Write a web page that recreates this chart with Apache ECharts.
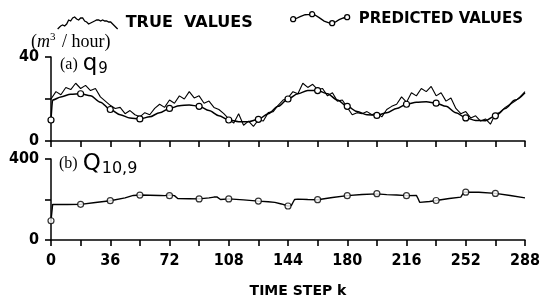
<!DOCTYPE html>
<html>
<head>
<meta charset="utf-8">
<script src="https://cdn.jsdelivr.net/npm/echarts@6/dist/echarts.min.js"></script>
<style>
html, body { margin: 0; padding: 0; background: #fff; }
#chart { width: 546px; height: 299px; }
</style>
</head>
<body>
<div id="chart"></div>
<script>
// (a) q9 true values, one every 3 time steps from k = 0
const trueQ9 = [
    20, 23.5, 22, 25.5, 24.5, 27.5, 25, 26.5, 24, 25,
    21, 19, 17, 15.5, 16, 13, 14.5, 12.5, 11.5, 13.5,
    12.5, 15.5, 17.5, 16, 19.5, 18, 21.5, 20, 23.5, 20.5,
    21.5, 18, 19, 16, 15, 13, 10.5, 8.5, 13, 7.5,
    9.5, 7, 10, 9.5, 13.5, 14, 17, 19.5, 20.5, 23.5,
    22.5, 27.5, 25.5, 27, 24.5, 25, 21.5, 23, 19, 19.5,
    16, 12.5, 13.5, 13, 14, 12.5, 13.5, 11.5, 15, 16.5,
    17.5, 21, 18.5, 23, 21.5, 25, 23.5, 26, 21.5, 23,
    19, 20.5, 15.5, 13, 14, 11, 12, 9.5, 10.5, 8,
    13, 13.5, 16, 17.5, 19, 21, 23.5
];
const trueStep = 3;

// (a) q9 predicted curve
const predK = [0, 1, 6, 12, 18, 24, 30, 36, 42, 48, 54, 60, 66, 72, 78, 84, 90, 96, 102, 108,
    114, 120, 126, 132, 138, 144, 150, 156, 162, 168, 174, 180, 186, 192, 198, 204, 210, 216,
    222, 228, 234, 240, 246, 252, 258, 264, 270, 276, 282, 288];
const predQ9 = [10, 19.5, 21, 22.3, 22.5, 21.5, 18.5, 15, 12.5, 11, 10.5, 11.5, 13.5, 15.5, 16.8,
    17.2, 16.5, 14.5, 12, 10, 9.2, 9.2, 10.3, 13, 16.5, 20, 22.5, 24, 24, 22.5, 19.5, 16.5, 14,
    12.5, 12.2, 13.5, 15.5, 17.5, 18.5, 18.7, 18, 16.5, 13.5, 11, 9.8, 9.7, 12, 15.5, 19.5, 23];

// (b) Q10,9 true values
const flowK = [0, 1, 10, 18, 27, 36, 45, 50, 54, 60, 66, 69, 70, 72, 75, 76, 77, 84, 90, 96,
    99, 101, 102, 103, 108, 117, 126, 132, 136, 140, 144, 146, 147, 148, 150, 156, 162, 171, 180, 189,
    198, 204, 210, 216, 222, 223, 224, 230, 234, 242, 249, 250, 251, 260, 270, 279, 288];
const trueQ109 = [95, 176, 175, 176, 185, 194, 208, 220, 222, 221, 220, 219, 224, 222, 219, 216, 205, 204, 203, 208,
    212, 212, 205, 200, 203, 198, 192, 189, 186, 178, 168, 170, 185, 200, 202, 200, 199, 210, 219, 225,
    228, 224, 222, 219, 220, 205, 186, 190, 195, 205, 212, 225, 236, 236, 230, 220, 208];

// predicted points shown as circles
const markK = [0, 18, 36, 54, 72, 90, 108, 126, 144, 162, 180, 198, 216, 234, 252, 270];
const predQ109 = [95, 176, 194, 222, 219, 203, 203, 192, 168, 199, 219, 229, 219, 195, 236, 230];

const xLabels = [0, 36, 72, 108, 144, 180, 216, 252, 288];
const topYLabels = [0, 40];
const botYLabels = [0, 400];

const trueIcon = 'path://M0,13L3,10L5,9L7,10L9,8L11,4L13,5L15,2L17,1L19,3L21,4L23,2L25,2L27,5L29,6L31,8L33,7L35,6L37,5L39,4L41,4L43,5L45,4L47,5L49,5L51,6L53,6L55,8L57,10L60,13';
const predIcon = 'path://M5.5,9.6L10,7.5L15,5.6L19.5,5.2M24.5,5.6L29,8.5L34,12L39.5,14'
    + 'M44.5,13.4L49,10.5L54.5,8.3'
    + 'M0.5,10a2.5,2.5 0 1,0 5,0a2.5,2.5 0 1,0 -5,0'
    + 'M19.5,5a2.5,2.5 0 1,0 5,0a2.5,2.5 0 1,0 -5,0'
    + 'M39.5,14a2.5,2.5 0 1,0 5,0a2.5,2.5 0 1,0 -5,0'
    + 'M54.5,8a2.5,2.5 0 1,0 5,0a2.5,2.5 0 1,0 -5,0';

const numFont = '"Liberation Sans Narrow", "DejaVu Sans Condensed", "Liberation Sans", sans-serif';
const capFont = '"DejaVu Sans", sans-serif';
const serifFont = '"Liberation Serif", "DejaVu Serif", serif';

const chart = echarts.init(document.getElementById('chart'));

function xAxis(gridIndex) {
    return {
        type: 'value',
        gridIndex,
        min: 0,
        max: 288,
        interval: 18,
        axisLine: { show: true, lineStyle: { color: '#000', width: 1.5 } },
        axisTick: { show: true, length: 6, lineStyle: { color: '#000', width: 1.6 } },
        splitLine: { show: false },
        axisLabel: {
            margin: 13,
            color: gridIndex === 1 ? '#000' : 'rgba(0,0,0,0)',
            fontSize: 16,
            fontWeight: 'bold',
            fontFamily: numFont,
            formatter: (v) => (xLabels.includes(v) ? String(v) : ''),
        },
    };
}

function yAxis(gridIndex, max, labels) {
    return {
        type: 'value',
        gridIndex,
        min: 0,
        max,
        interval: max / 2,
        axisLine: { show: true, lineStyle: { color: '#000', width: 1.5 } },
        axisTick: { show: true, length: 6, lineStyle: { color: '#000', width: 1.6 } },
        splitLine: { show: false },
        axisLabel: {
            margin: 12,
            color: '#000',
            fontSize: 16,
            fontWeight: 'bold',
            fontFamily: numFont,
            formatter: (v) => (labels.includes(v) ? String(v) : ''),
        },
    };
}

const circle = {
    color: '#fff',
    borderColor: '#000',
    borderWidth: 1.2,
};

const bottomX = xAxis(1);
bottomX.name = 'TIME STEP k';
bottomX.nameLocation = 'middle';
bottomX.nameGap = 44;
bottomX.nameTextStyle = {
    fontFamily: capFont,
    fontSize: 14,
    fontWeight: 'bold',
    color: '#000',
    padding: [0, 0, 0, 20],
};

const option = {
    animation: false,
    title: [
        {
            text: '({m|m}{sup|3} / hour)',
            left: 26,
            top: 27,
            textStyle: {
                fontFamily: serifFont,
                fontSize: 18,
                fontWeight: 'normal',
                color: '#000',
                rich: {
                    m: { fontFamily: serifFont, fontSize: 18, fontStyle: 'italic', fontWeight: 'normal', color: '#000' },
                    sup: { fontFamily: serifFont, fontSize: 11, fontWeight: 'normal', color: '#000', padding: [0, 2, 9, 0] },
                },
            },
        },
        {
            text: '{p|(a)} {q|q}{s|9}',
            left: 55,
            top: 47,
            textStyle: {
                fontWeight: 'normal',
                rich: {
                    p: { fontFamily: serifFont, fontSize: 16, fontWeight: 'normal', color: '#000' },
                    q: { fontFamily: capFont, fontSize: 23, fontWeight: 'normal', color: '#000' },
                    s: { fontFamily: capFont, fontSize: 15, fontWeight: 'normal', color: '#000', padding: [10, 0, 0, 1] },
                },
            },
        },
        {
            text: '{p|(b)} {q|Q}{s|10,9}',
            left: 54,
            top: 146,
            textStyle: {
                fontWeight: 'normal',
                rich: {
                    p: { fontFamily: serifFont, fontSize: 16, fontWeight: 'normal', color: '#000' },
                    q: { fontFamily: capFont, fontSize: 23, fontWeight: 'normal', color: '#000' },
                    s: { fontFamily: capFont, fontSize: 16, fontWeight: 'normal', color: '#000', padding: [10, 0, 0, 1] },
                },
            },
        },
    ],
    legend: [
        {
            data: [{ name: 'TRUE VALUES', icon: trueIcon }],
            left: 52,
            top: 10,
            itemWidth: 60,
            itemHeight: 13,
            selectedMode: false,
            formatter: () => 'TRUE  VALUES',
            itemStyle: { color: 'rgba(0,0,0,0)', borderColor: '#000', borderWidth: 1.3 },
            textStyle: { fontFamily: capFont, fontSize: 16, fontWeight: 'bold', color: '#000', padding: [2, 0, 0, 3] },
        },
        {
            data: [{ name: 'PREDICTED VALUES', icon: predIcon }],
            left: 285,
            top: 6,
            itemWidth: 59,
            itemHeight: 14,
            selectedMode: false,
            itemStyle: { color: 'rgba(0,0,0,0)', borderColor: '#000', borderWidth: 1.3 },
            textStyle: { fontFamily: capFont, fontSize: 15, fontWeight: 'bold', color: '#000', padding: [0, 0, 0, 4] },
        },
    ],
    grid: [
        { left: 51, right: 21, top: 57, height: 84 },
        { left: 51, right: 21, top: 159, height: 82 },
    ],
    xAxis: [xAxis(0), bottomX],
    yAxis: [
        yAxis(0, 40, topYLabels),
        yAxis(1, 400, botYLabels),
    ],
    series: [
        {
            name: 'TRUE VALUES',
            type: 'line',
            xAxisIndex: 0,
            yAxisIndex: 0,
            symbol: 'none',
            lineStyle: { color: '#000', width: 1.1 },
            data: trueQ9.map((v, i) => [i * trueStep, v]),
        },
        {
            name: 'PREDICTED VALUES',
            type: 'line',
            xAxisIndex: 0,
            yAxisIndex: 0,
            smooth: 0.3,
            smoothMonotone: 'x',
            showSymbol: true,
            showAllSymbol: true,
            symbolSize: 6,
            itemStyle: circle,
            lineStyle: { color: '#000', width: 1.5 },
            z: 3,
            data: predK.map((k, i) => ({
                value: [k, predQ9[i]],
                symbol: markK.includes(k) ? 'circle' : 'none',
            })),
        },
        {
            name: 'TRUE VALUES',
            type: 'line',
            xAxisIndex: 1,
            yAxisIndex: 1,
            symbol: 'none',
            lineStyle: { color: '#000', width: 1.4 },
            data: flowK.map((k, i) => [k, trueQ109[i]]),
        },
        {
            name: 'PREDICTED VALUES',
            type: 'scatter',
            xAxisIndex: 1,
            yAxisIndex: 1,
            symbol: 'circle',
            symbolSize: 6,
            itemStyle: circle,
            z: 3,
            data: markK.map((k, i) => [k, predQ109[i]]),
        },
    ],
};

chart.setOption(option);
</script>
</body>
</html>
